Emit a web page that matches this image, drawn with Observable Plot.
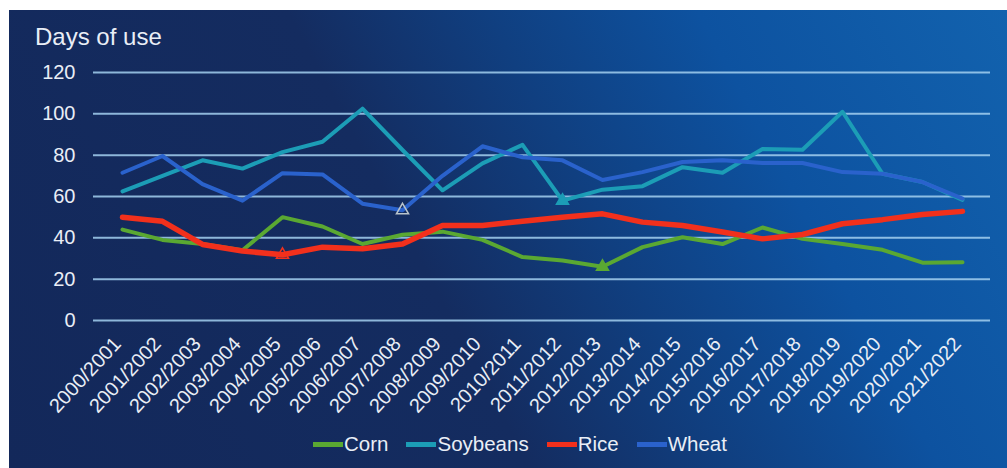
<!DOCTYPE html>
<html>
<head>
<meta charset="utf-8">
<script src="https://cdn.jsdelivr.net/npm/d3@7"></script>
<script src="https://cdn.jsdelivr.net/npm/@observablehq/plot@0.6"></script>
<style>
  html, body { margin: 0; padding: 0; background: #ffffff; }
  #panel {
    position: absolute; left: 9px; top: 10px; width: 998px; height: 458px; overflow: hidden;
    background: linear-gradient(62deg, #13285a 0%, #142c60 42%, #103f80 58%, #0d52a0 75%, #1262ae 100%);
    font-family: "Liberation Sans", Arial, sans-serif; color: #e9eef6;
  }
  #title { position: absolute; left: 26px; top: 13px; font-size: 24px; }
  #chart { position: absolute; left: 0; top: 0; }
  #legend { position: absolute; left: 0; width: 1022px; top: 422px; display: flex; justify-content: center; gap: 0 18px; font-size: 20.5px; }
  .item { display: flex; align-items: center; }
  .sw { width: 30px; height: 5px; margin-right: 1px; }
</style>
</head>
<body>
<div id="panel">
  <div id="chart"></div>
  <div id="title">Days of use</div>
  <div id="legend"></div>
</div>
<script>
const seasons = ["2000/2001","2001/2002","2002/2003","2003/2004","2004/2005","2005/2006","2006/2007","2007/2008","2008/2009","2009/2010","2010/2011","2011/2012","2012/2013","2013/2014","2014/2015","2015/2016","2016/2017","2017/2018","2018/2019","2019/2020","2020/2021","2021/2022"];
const seriesNames = ["Corn","Soybeans","Rice","Wheat"];
const seriesColors = ["#5aa832","#1c9db6","#f2301c","#2a62cc"];
const corn     = [44, 39, 37, 34, 50, 45.5, 37, 41.5, 43, 39, 30.7, 29, 26, 35.5, 40.3, 37, 45, 39.5, 37, 34.2, 28, 28.2];
const soybeans = [62.5, 70, 77.5, 73.5, 81.5, 86.5, 102.5, 82.5, 63, 76, 85, 58, 63.3, 65, 74.2, 71.5, 83, 82.6, 101, 71, 67, 58.4];
const rice     = [50, 48, 36.8, 33.6, 31.8, 35.5, 34.7, 37, 46, 46, 48, 50, 51.6, 47.6, 46, 42.8, 39.5, 41.6, 46.8, 48.8, 51.3, 52.8];
const wheat    = [71.5, 79.6, 66, 58, 71.3, 70.7, 56.5, 53.3, 70, 84.3, 79, 77.5, 68, 71.8, 76.7, 77.5, 76.2, 76.2, 71.8, 71, 67, 59];
const yTicks = [0, 20, 40, 60, 80, 100, 120];
// low-point triangle markers
const markerSeries  = ["Rice", "Wheat", "Soybeans", "Corn"];
const markerSeasons = ["2004/2005", "2007/2008", "2011/2012", "2012/2013"];
const markerFills   = ["none", "none", "#1c9db6", "#5aa832"];
const markerStrokes = ["#f2301c", "#b9c4cc", "#1c9db6", "#5aa832"];

const valuesBy = {Corn: corn, Soybeans: soybeans, Rice: rice, Wheat: wheat};
const widths = {Corn: 4, Soybeans: 4, Rice: 5.5, Wheat: 4};
const rowsFor = name => seasons.map((s, i) => ({series: name, season: s, value: valuesBy[name][i]}));

const chart = Plot.plot({
  width: 998, height: 458,
  marginLeft: 84, marginRight: 17, marginTop: 62, marginBottom: 148,
  style: {background: "transparent", color: "#e9eef6", fontFamily: "'Liberation Sans', Arial, sans-serif"},
  x: {type: "point", domain: seasons, padding: 0.5, label: null},
  y: {domain: [0, 120], label: null},
  marks: [
    Plot.gridY(yTicks, {stroke: "#a3d0f0", strokeOpacity: 0.85, strokeWidth: 2}),
    Plot.axisY(yTicks, {tickSize: 0, tickPadding: 18, fontSize: 20, fill: "#e9eef6", label: null}),
    Plot.axisX({tickSize: 0, tickRotate: -47, tickPadding: 20, dx: -5, fontSize: 20, fill: "#e9eef6", label: null}),
    ...seriesNames.map((name, k) => Plot.lineY(rowsFor(name), {
      x: "season", y: "value", stroke: seriesColors[k], strokeWidth: widths[name], strokeLinejoin: "round"
    })),
    ...markerSeries.map((name, i) => Plot.dot([{season: markerSeasons[i], value: valuesBy[name][seasons.indexOf(markerSeasons[i])]}], {
      x: "season", y: "value", symbol: "triangle", r: 4.5, fill: markerFills[i], stroke: markerStrokes[i], strokeWidth: 1.5
    }))
  ]
});
document.getElementById("chart").appendChild(chart);

const legend = document.getElementById("legend");
seriesNames.forEach((name, i) => {
  const item = document.createElement("div");
  item.className = "item";
  const sw = document.createElement("span");
  sw.className = "sw";
  sw.style.background = seriesColors[i];
  const label = document.createElement("span");
  label.textContent = name;
  item.appendChild(sw); item.appendChild(label);
  legend.appendChild(item);
});
</script>
</body>
</html>
